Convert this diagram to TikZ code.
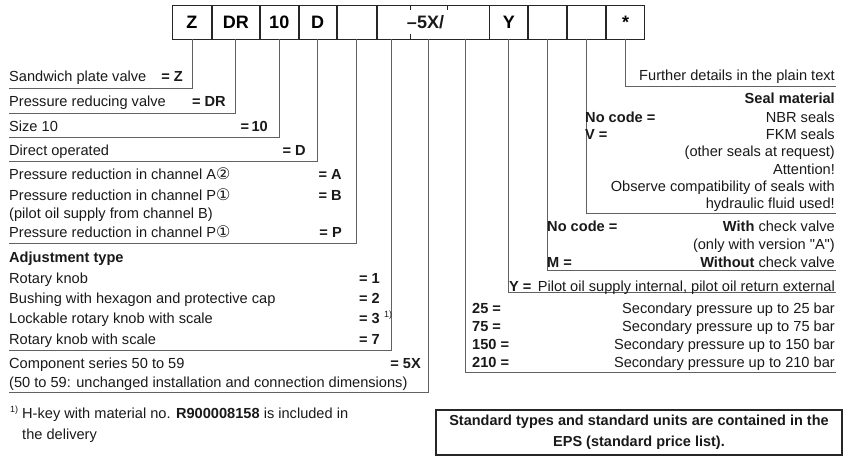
\documentclass[tikz,border=0pt]{standalone}
\usepackage{fontspec}
\setmainfont{Liberation Sans}
\newfontfamily\circfont{DejaVu Sans}
\newfontfamily\quotefont{Liberation Sans}
\newcommand{\circOne}{{\circfont\fontsize{16}{16}\selectfont ①}}
\newcommand{\circTwo}{{\circfont\fontsize{16}{16}\selectfont ②}}
\newcommand{\straightquote}{{\quotefont"}}

\begin{document}
\begin{tikzpicture}[x=1pt, y=-1pt, font=\fontsize{14.6}{17}\selectfont,
  codebox/.style={draw=boxGray, line width=0.9pt, minimum height=34pt, inner sep=0pt,
    anchor=west, font=\bfseries\fontsize{18}{18}\selectfont},
  subpos/.style={minimum width=37pt, minimum height=34pt, inner sep=0pt},
  leader/.style={draw=lineGray, line width=0.8pt},
  lbl/.style={inner sep=0pt, text=txtGray},
  code/.style={lbl, font=\bfseries\fontsize{14.6}{17}\selectfont}]

    \colorlet{lineGray}{black!62}   % leader lines
    \colorlet{boxGray}{black!85}    % code boxes
    \colorlet{txtGray}{black!90}

  \useasboundingbox (0,0) rectangle (845,464);

  % ordering code boxes
  \node[codebox, minimum width=39pt] (bZ) at (172,22) {Z};
  \node[codebox, minimum width=47pt] (bDR) at (bZ.east) {DR};
  \node[codebox, minimum width=38pt] (b10) at (bDR.east) {10};
  \node[codebox, minimum width=37pt] (bD) at (b10.east) {D};
  \node[codebox, minimum width=39pt] (bA) at (bD.east) {};
  \node[codebox, minimum width=112pt] (bSer) at (bA.east) {};
  \node[codebox, minimum width=38pt] (bY) at (bSer.east) {Y};
  \node[codebox, minimum width=38pt] (bM) at (bY.east) {};
  \node[codebox, minimum width=38pt] (bV) at (bM.east) {};
  \node[codebox, minimum width=38pt] (bStar) at (bV.east) {*};

  % the wide box holds three places: adjustment, series, pressure
  \node[subpos] (pAdj) at (391,22) {};
  \node[subpos] (pSer) at (428.5,22) {};
  \node[subpos] (pPre) at (465.5,22) {};
  \node[code, font=\bfseries\fontsize{18}{18}\selectfont] (tSer) at (425.5,22) {–5X/};
  \draw[boxGray, line width=0.9pt] (410,5) -- (410,10) (410,34) -- (410,39) (447,5) -- (447,10);

  % leader lines to the left
  \foreach \b/\y in {bZ/88, bDR/113, b10/137, bD/161, bA/243, pAdj/350, pSer/392}
  \draw[leader] (\b.south) |- (9,\y) coordinate (e\b);

  % leader lines to the right
  \foreach \b/\y in {pPre/372, bY/292, bM/270, bV/213, bStar/86}
  \draw[leader] (\b.south) |- (836,\y) coordinate (e\b);

  % left texts
  \foreach \y/\t [count=\i] in {
    76/Sandwich plate valve,
    101/Pressure reducing valve,
    126/Size 10,
    150/Direct operated,
    174/Pressure reduction in channel A\circTwo,
    195/Pressure reduction in channel P\circOne,
    213/{(pilot oil supply from channel B)},
    232/Pressure reduction in channel P\circOne,
    257/\textbf{Adjustment type},
    278/Rotary knob,
    298/Bushing with hexagon and protective cap,
    318/Lockable rotary knob with scale,
    339/Rotary knob with scale,
    363/Component series 50 to 59,
    382/{(50 to 59: unchanged installation and connection dimensions)}}
  \node[lbl, anchor=base west] (d\i) at (9,\y+5) {\t};

  \foreach \x/\y/\c [count=\i] in {183/76/= Z, 226/101/= DR, 268/126/=\,10, 306/150/= D,
    342/174/= A, 342/195/= B, 342/232/= P, 380/278/= 1, 380/298/= 2, 380/318/= 3,
    380/339/= 7, 421/363/= 5X}
  \node[code, anchor=base east] (c\i) at (\x,\y+5) {\c};
  \node[lbl, anchor=base west, font=\fontsize{9}{9}\selectfont] (fnA) at ([shift={(4,-6)}]c10.base east) {1)};

  % right texts
  \foreach \y/\t [count=\i] in {
    75/Further details in the plain text,
    98/\textbf{Seal material},
    117/NBR seals,
    134/FKM seals,
    151/{(other seals at request)},
    169/Attention!,
    186/Observe compatibility of seals with,
    203/hydraulic fluid used!,
    226/\textbf{With} check valve,
    244/{(only with version \straightquote A\straightquote)},
    262/\textbf{Without} check valve,
    286/{Pilot oil supply internal, pilot oil return external},
    308/Secondary pressure up to 25 bar,
    326/Secondary pressure up to 75 bar,
    344/Secondary pressure up to 150 bar,
    362/Secondary pressure up to 210 bar}
  \node[lbl, anchor=base east] (r\i) at (835,\y+5) {\t};

  \foreach \x/\y/\c [count=\i] in {585/117/No code =, 585/134/V =, 547/226/No code =,
    547/262/M =, 509/286/Y =, 472/308/25 =, 472/326/75 =, 472/344/150 =, 472/362/210 =}
  \node[code, anchor=base west] (k\i) at (\x,\y+5) {\c};

  % footnote
  \node[lbl, anchor=base west, font=\fontsize{9}{9}\selectfont] (fnB) at (10,412) {1)};
  \node[lbl, anchor=base west] (fn1) at (22,418) {H-key with material no. \textbf{R900008158} is included in};
  \node[lbl, anchor=base west] (fn2) at (22,439) {the delivery};

  % standard types note
  \node[draw=boxGray, line width=1.2pt, minimum width=406pt, minimum height=45pt, inner sep=0pt,
    align=center, text=txtGray, font=\bfseries\fontsize{14.5}{21}\selectfont] (eps) at (639,432.5)
    {Standard types and standard units are contained in the\\EPS (standard price list).};

  \end{tikzpicture}
\end{document}
